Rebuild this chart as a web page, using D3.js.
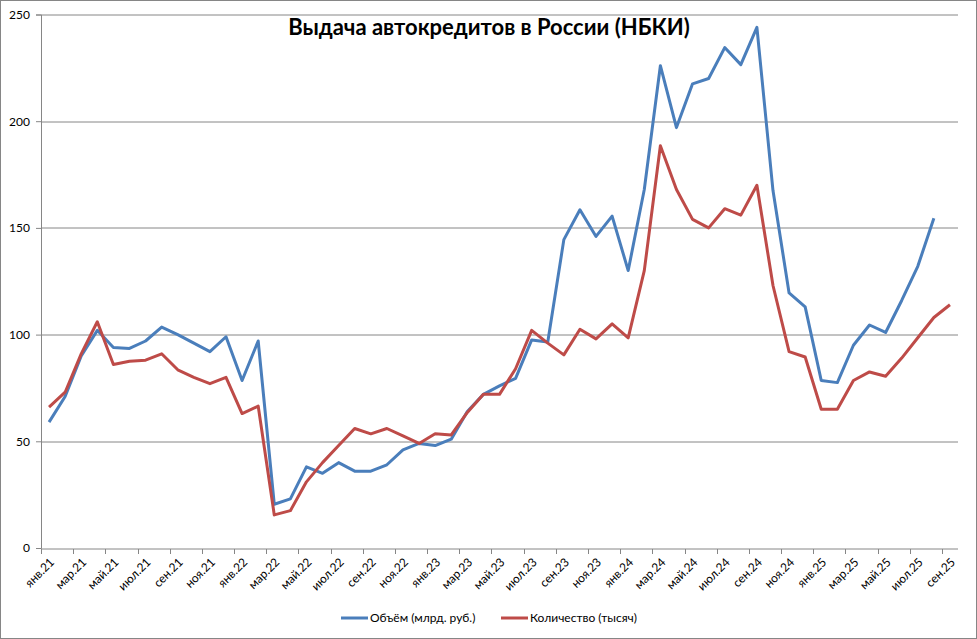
<!DOCTYPE html>
<html>
<head>
<meta charset="utf-8">
<script src="https://cdn.jsdelivr.net/npm/d3@7"></script>
<style>
  body { margin: 0; background: #fff; }
  svg text { font-family: Lato, "Open Sans", sans-serif; }
</style>
</head>
<body>
<div class="chart"></div>
<script>
var svgWidth = 977;
var svgHeight = 639;

// months Jan 2021 .. Sep 2025
var months = ["янв", "фев", "мар", "апр", "май", "июн", "июл", "авг", "сен", "окт", "ноя", "дек"];
var categories = [];
[21, 22, 23, 24, 25].forEach(function (yr) {
  months.forEach(function (m, i) {
    if (yr === 25 && i > 8) return;
    categories.push(m + "." + yr);
  });
});

var volume = [59, 71, 90, 102, 94, 93.5, 97, 103.5, 100, 96, 92, 99,
  78.5, 97, 20.5, 23, 38, 35, 40, 36, 36, 39, 46, 49,
  48, 51, 64, 72, 76, 79.5, 97.5, 96.5, 144.5, 158.5, 146, 155.5,
  130, 168, 226, 197, 217.5, 220, 234.5, 226.5, 244, 167.5, 119.5, 113,
  78.5, 77.5, 95, 104.5, 101, 116, 132, 154.5];

var count = [66, 73, 91, 106, 86, 87.5, 88, 91, 83.5, 80, 77, 80,
  63, 66.5, 15.5, 17.5, 31, 40, 48, 56, 53.5, 56, 52.5, 49,
  53.5, 53, 63.5, 72, 72, 84, 102, 96, 90.5, 102.5, 98, 105,
  98.5, 130, 188.5, 168, 154, 150, 159, 156, 170, 123, 92, 89.5,
  65, 65, 78.5, 82.5, 80.5, 89, 98.5, 108, 114];

var yTicks = [0, 50, 100, 150, 200, 250];
var seriesNames = ["Объём (млрд. руб.)", "Количество (тысяч)"];
var colors = ["#4A7EBB", "#BE4B48"];

var margin = { top: 14.5, right: 19, bottom: 91, left: 41 };
var width = svgWidth - margin.left - margin.right;
var height = svgHeight - margin.top - margin.bottom;

var svg = d3.select(".chart")
  .append("svg")
  .attr("width", svgWidth)
  .attr("height", svgHeight);

// outer frame
svg.append("rect")
  .attr("x", 0.5).attr("y", 0.5)
  .attr("width", svgWidth - 1).attr("height", svgHeight - 1)
  .attr("fill", "#fff")
  .attr("stroke", "#868686");

var chartGroup = svg.append("g")
  .attr("transform", `translate(${margin.left}, ${margin.top})`);

var xScale = d3.scaleBand()
  .domain(categories)
  .range([0, width]);

var yScale = d3.scaleLinear()
  .domain([0, 250])
  .range([height, 0]);

// gridlines
chartGroup.selectAll(".grid")
  .data(yTicks.slice(1))
  .enter()
  .append("line")
  .attr("x1", 0)
  .attr("x2", width)
  .attr("y1", d => Math.round(yScale(d)) + 0.5)
  .attr("y2", d => Math.round(yScale(d)) + 0.5)
  .attr("stroke", "#868686")
  .attr("stroke-width", 1);

// y axis
var leftAxis = d3.axisLeft(yScale)
  .tickValues(yTicks)
  .tickSize(5)
  .tickPadding(6);

var yAxisG = chartGroup.append("g").call(leftAxis);
yAxisG.selectAll("line, path").attr("stroke", "#868686");
yAxisG.select("path").attr("d", `M-5,${height + 0.5}H0.5V0.5H-5`);
yAxisG.selectAll("text")
  .attr("font-size", "12px")
  .attr("fill", "#000");

// x axis: ticks between categories every 2 months
var tickCats = categories.filter((d, i) => i % 2 === 0);
var xAxisG = chartGroup.append("g")
  .attr("transform", `translate(0, ${Math.round(height) + 0.5})`);

xAxisG.append("line")
  .attr("x1", 0).attr("x2", width)
  .attr("stroke", "#868686");

xAxisG.selectAll(".xtick")
  .data(tickCats)
  .enter()
  .append("line")
  .attr("x1", d => Math.round(xScale(d)) + 0.5)
  .attr("x2", d => Math.round(xScale(d)) + 0.5)
  .attr("y1", 0)
  .attr("y2", 5)
  .attr("stroke", "#868686");

xAxisG.selectAll(".xlabel")
  .data(tickCats)
  .enter()
  .append("text")
  .attr("transform", d => `translate(${xScale(d) + xScale.bandwidth() / 2 + 3}, 11) rotate(-45)`)
  .attr("text-anchor", "end")
  .attr("dy", "0.35em")
  .attr("font-size", "12px")
  .attr("fill", "#000")
  .text(d => d);

// lines
var line = d3.line()
  .x((d, i) => xScale(categories[i]) + xScale.bandwidth() / 2)
  .y(d => yScale(d));

[volume, count].forEach(function (series, k) {
  chartGroup.append("path")
    .datum(series)
    .attr("fill", "none")
    .attr("stroke", colors[k])
    .attr("stroke-width", 3)
    .attr("stroke-linejoin", "round")
    .attr("d", line);
});

// title
svg.append("text")
  .attr("x", 489)
  .attr("y", 35)
  .attr("text-anchor", "middle")
  .attr("font-size", "22px")
  .attr("font-weight", "bold")
  .attr("fill", "#000")
  .text("Выдача автокредитов в России (НБКИ)");

// legend
var legendX = [341, 501];
seriesNames.forEach(function (name, k) {
  var g = svg.append("g").attr("transform", `translate(${legendX[k]}, 618)`);
  g.append("line")
    .attr("x1", 0).attr("x2", 27)
    .attr("stroke", colors[k])
    .attr("stroke-width", 3);
  g.append("text")
    .attr("x", 29)
    .attr("dy", "0.35em")
    .attr("font-size", "12px")
    .attr("fill", "#000")
    .text(name);
});
</script>
</body>
</html>
